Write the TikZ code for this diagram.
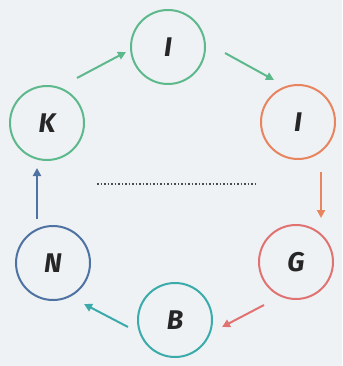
\documentclass[tikz,border=0pt]{standalone}
\usepackage{fontspec}
\setmainfont{Fira Sans}
\usetikzlibrary{arrows.meta}
\definecolor{bg}{HTML}{EEF2F5}
\definecolor{cgreen}{HTML}{5DB98C}
\definecolor{corange}{HTML}{E8845E}
\definecolor{cred}{HTML}{E07272}
\definecolor{cteal}{HTML}{3AAAAA}
\definecolor{cblue}{HTML}{4E72A2}
\begin{document}
\begin{tikzpicture}[x=1pt,y=-1pt,
  letter/.style={circle,draw=#1,line width=2pt,minimum size=74pt,inner sep=0pt,
    font=\bfseries\itshape\fontsize{27}{27}\selectfont,text=black!85},
  conn/.style={draw=#1,line width=2pt,-{Triangle[length=8pt,width=8pt]}}]
\fill[bg] (0,0) rectangle (342,366);
\useasboundingbox (0,0) rectangle (342,366);
\node[letter=cgreen] (i1) at (168,47) {I};
\node[letter=corange] (i2) at (298,122) {I};
\node[letter=cred] (g) at (296,262) {G};
\node[letter=cteal] (b) at (175,320) {B};
\node[letter=cblue] (n) at (53,263) {N};
\node[letter=cgreen] (k) at (47,123) {K};
\coordinate (d1) at (97,184);
\coordinate (d2) at (255,184);
\draw[line width=1.5pt,dotted,black!70] (d1) -- (d2);
\coordinate (a1s) at (77,78);
\coordinate (a1e) at (126,52);
\draw[conn=cgreen] (a1s) -- (a1e);
\coordinate (a2s) at (225,53);
\coordinate (a2e) at (274,80);
\draw[conn=cgreen] (a2s) -- (a2e);
\coordinate (a3s) at (321,172);
\coordinate (a3e) at (321,218);
\draw[conn=corange] (a3s) -- (a3e);
\coordinate (a4s) at (264,305);
\coordinate (a4e) at (222,327);
\draw[conn=cred] (a4s) -- (a4e);
\coordinate (a5s) at (128,327);
\coordinate (a5e) at (84,304);
\draw[conn=cteal] (a5s) -- (a5e);
\coordinate (a6s) at (37,219);
\coordinate (a6e) at (37,168);
\draw[conn=cblue] (a6s) -- (a6e);
\end{tikzpicture}
\end{document}
